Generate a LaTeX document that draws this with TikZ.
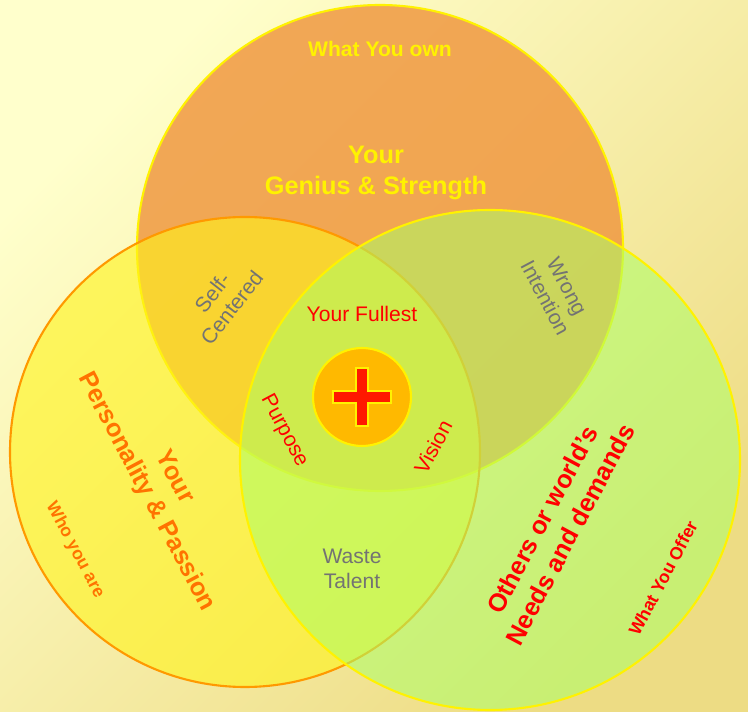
\documentclass[tikz,border=0pt]{standalone}
\usepackage{fontspec}
\setmainfont{Liberation Sans}
\begin{document}
\begin{tikzpicture}[x=0.02cm,y=-0.02cm,
    ring/.style={line width=1.2pt},
    lbl/.style={font=\bfseries, align=center},
    grey/.style={text=gray!90!black, align=center, font=\large}]
  % background
  \shade[top color=yellow!20!white, bottom color=brown!50!yellow!55, shading angle=45]
    (0,0) rectangle (748,712);
  \useasboundingbox (0,0) rectangle (748,712);

  % the three circles
  \draw[ring, yellow, fill=orange!70!brown!80!white, fill opacity=0.85] (380,248) circle (243);
  \draw[ring, orange!80!yellow, fill=yellow!90!white, fill opacity=0.6] (245,452) circle (235);
  \draw[ring, yellow, fill=green!55!yellow!60!white, fill opacity=0.55] (490,460) circle (250);

  % centre
  \draw[ring, yellow, fill=orange!55!yellow] (362,397) circle (49);
  \draw[yellow, line width=1pt, fill=red!80!orange]
    (356,368) -- (368,368) -- (368,391) -- (391,391) -- (391,403) -- (368,403)
    -- (368,426) -- (356,426) -- (356,403) -- (333,403) -- (333,391) -- (356,391) -- cycle;

  % labels
  \node[lbl, text=yellow, font=\bfseries\large] (own) at (380,49) {What You own};
  \node[lbl, text=yellow, font=\bfseries\Large] (genius) at (376,173) {Your\\Genius \& Strength};
  \node[grey, rotate=52] (self) at (222,300) {Self-\\Centered};
  \node[grey, rotate=-62] (wrong) at (556,292) {Wrong\\Intention};
  \node[lbl, text=red, font=\large] (fullest) at (362,314) {Your Fullest};
  \node[lbl, text=red, font=\large, rotate=-62] (purpose) at (284,431) {Purpose};
  \node[lbl, text=red, font=\large, rotate=62] (vision) at (433,447) {Vision};
  \node[lbl, text=orange!90!red, font=\bfseries\Large, rotate=-62] (passion) at (160,485) {Your\\Personality \& Passion};
  \node[lbl, text=orange!90!red, font=\bfseries, rotate=-62] (who) at (75,550) {Who you are};
  \node[grey] (waste) at (352,569) {Waste\\Talent};
  \node[lbl, text=red, font=\bfseries\Large, rotate=62] (needs) at (556,527) {Others or world's\\Needs and demands};
  \node[lbl, text=red, rotate=62] (offer) at (663,578) {What You Offer};
\end{tikzpicture}
\end{document}
